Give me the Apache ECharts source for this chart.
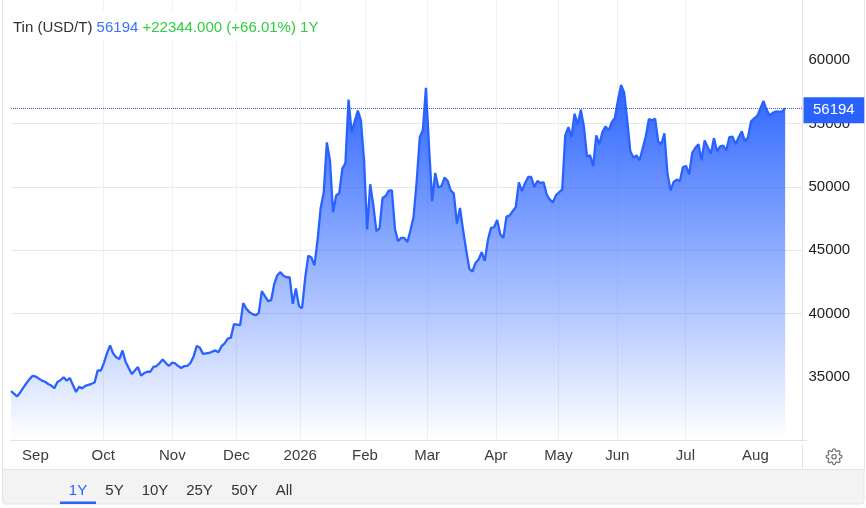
<!DOCTYPE html>
<html>
<head>
<meta charset="utf-8">
<script src="https://cdn.jsdelivr.net/npm/echarts@6/dist/echarts.min.js"></script>
<style>html,body{margin:0;padding:0;background:#fff}#c{width:866px;height:508px}</style>
</head>
<body>
<div id="c"></div>
<script>
const values = [
33900,33685,33480,33800,34170,34530,34840,35100,35040,34880,
34720,34630,34450,34330,34130,34610,34760,34980,34720,34920,
34370,33820,34240,34110,34310,34390,34470,34570,35530,35510,
36100,36890,37500,36850,36570,36420,37100,36200,35710,35240,
35510,35790,35120,35310,35420,35420,35810,35870,36100,36380,
36100,35870,36130,36080,35870,35710,35870,35890,36130,36650,
37460,37310,36830,36870,36900,37010,37100,36950,37440,37650,
38030,38110,39170,39130,39090,40830,40390,40120,39960,39880,
40040,41770,41380,40980,41060,42320,43030,43270,42990,42870,
42850,40770,41980,40590,40430,42800,44570,44430,43800,45790,
48310,49570,53500,52090,47990,49310,49490,51430,51880,56870,
54290,55160,56000,55240,52090,46630,50200,48540,46500,46730,
49120,49280,49700,49720,46650,45710,45970,45970,45650,46570,
47620,50380,53900,54450,57810,53130,48860,51090,49940,50060,
50720,50470,49720,49460,47100,48330,46570,45000,43540,43320,
44000,44270,44840,44160,45790,46760,46810,47390,46260,45970,
47650,47720,48070,48390,50350,49670,50280,50770,50770,49980,
50460,50300,50350,49390,48980,48780,49330,49570,49800,54050,
54710,53920,55760,54900,56080,54760,52400,52480,51640,54050,
53350,54310,54760,54450,55100,55420,56810,58020,57440,55240,
52800,52300,52480,52090,53030,53980,55340,55240,55370,53590,
53350,54210,51040,49720,50390,50570,50430,51560,51640,50980,
52680,53070,53350,52090,53660,53110,52610,53820,52820,53190,
53240,52870,53920,53950,53350,53900,54370,53580,53900,55160,
55390,55590,56180,56760,56070,55630,55830,55940,55920,55940,
56194
];
const monthLabels = ['Sep','Oct','Nov','Dec','2026','Feb','Mar','Apr','May','Jun','Jul','Aug'];
const monthTicks  = [7.9,29.8,52.1,72.8,93.4,114.3,134.4,156.6,176.8,195.8,217.8,240.4];
const priceTicks  = [35000,40000,45000,50000,55000,60000];
const rangeLabels = ['1Y','5Y','10Y','25Y','50Y','All'];
const seriesName = 'Tin (USD/T)';
const lastPrice = '56194';
const changeText = '+22344.000 (+66.01%) 1Y';

const FONT = '"Liberation Sans", Arial, sans-serif';
const BLUE = '#2962ff';
const gear = 'M12 15a3 3 0 1 0 0-6 3 3 0 0 0 0 6z M19.4 15a1.65 1.65 0 0 0 .33 1.82l.06.06a2 2 0 0 1 0 2.83 2 2 0 0 1-2.83 0l-.06-.06a1.65 1.65 0 0 0-1.82-.33 1.65 1.65 0 0 0-1 1.51V21a2 2 0 0 1-2 2 2 2 0 0 1-2-2v-.09A1.65 1.65 0 0 0 9 19.4a1.65 1.65 0 0 0-1.82.33l-.06.06a2 2 0 0 1-2.83 0 2 2 0 0 1 0-2.83l.06-.06a1.65 1.65 0 0 0 .33-1.82 1.65 1.65 0 0 0-1.51-1H3a2 2 0 0 1-2-2 2 2 0 0 1 2-2h.09A1.65 1.65 0 0 0 4.6 9a1.65 1.65 0 0 0-.33-1.82l-.06-.06a2 2 0 0 1 0-2.83 2 2 0 0 1 2.83 0l.06.06a1.65 1.65 0 0 0 1.82.33H9a1.65 1.65 0 0 0 1-1.51V3a2 2 0 0 1 2-2 2 2 0 0 1 2 2v.09a1.65 1.65 0 0 0 1 1.51 1.65 1.65 0 0 0 1.82-.33l.06-.06a2 2 0 0 1 2.83 0 2 2 0 0 1 0 2.83l-.06.06a1.65 1.65 0 0 0-.33 1.82V9a1.65 1.65 0 0 0 1.51 1H21a2 2 0 0 1 2 2 2 2 0 0 1-2 2h-.09a1.65 1.65 0 0 0-1.51 1z';
echarts.graphic.registerShape('gearIcon', echarts.graphic.extendPath(gear, {}));

const rangeX = [78,114.5,155,199.5,244.5,284];
const line = (x1,y1,x2,y2,c) => ({type:'line',silent:true,z:1,shape:{x1,y1,x2,y2},style:{stroke:c||'#e4e4e4',lineWidth:1}});
const graphics = [
  {type:'rect',silent:true,z:0,shape:{x:2.5,y:469.5,width:861.5,height:34.5,r:[0,0,3,3]},style:{fill:'#f3f3f3',stroke:'#e4e4e4',lineWidth:1}},
  line(2.5,0,2.5,470), line(864.5,0,864.5,470),
  line(802.5,444,802.5,469.5), line(802,440.5,807,440.5),
  {type:'rect',silent:true,z:2,shape:{x:60,y:501.5,width:36,height:2.5},style:{fill:BLUE}},
  {type:'gearIcon',silent:true,z:2,x:825.4,y:448,scaleX:0.72,scaleY:0.72,style:{fill:'none',stroke:'#666',lineWidth:1.6}}
];
rangeLabels.forEach((t,i)=>graphics.push({type:'text',silent:true,z:2,x:rangeX[i],y:491,
  style:{text:t,fill:i===0?BLUE:'#333',font:'15px '+FONT,textAlign:'center',textVerticalAlign:'middle'}}));

const chart = echarts.init(document.getElementById('c'),null,{renderer:'canvas'});
chart.setOption({
  animation:false,
  backgroundColor:'#fff',
  textStyle:{fontFamily:FONT},
  title:{
    left:11,top:11,padding:[9,2,5,2],backgroundColor:'#fff',
    text:`{a|${seriesName}} {b|${lastPrice}} {c|${changeText}}`,
    textStyle:{fontWeight:'normal',fontSize:15,rich:{
      a:{fontSize:15,fontWeight:'normal',lineHeight:15,color:'#333',fontFamily:FONT},
      b:{fontSize:15,fontWeight:'normal',lineHeight:15,color:'#3d6fff',fontFamily:FONT},
      c:{fontSize:15,fontWeight:'normal',lineHeight:15,color:'#2ecc40',fontFamily:FONT}
    }}
  },
  grid:{left:11,top:0.5,right:63.5,bottom:67.5,containLabel:false},
  xAxis:{
    type:'value',min:0,max:255.6,
    axisLine:{show:true,onZero:false,lineStyle:{color:'#e4e4e4',width:1}},
    axisTick:{show:false,customValues:monthTicks},
    axisLabel:{customValues:monthTicks,color:'#3c3c3c',fontSize:15,fontFamily:FONT,margin:8,hideOverlap:false,
      formatter:v=>monthLabels[monthTicks.indexOf(v)]||''},
    splitLine:{show:true,showMinLine:false,showMaxLine:false,lineStyle:{color:'#eef1f5',width:1}}
  },
  yAxis:{
    type:'value',position:'right',min:30000,max:64685,
    axisLine:{show:true,onZero:false,lineStyle:{color:'#e4e4e4',width:1}},
    axisTick:{show:false,customValues:priceTicks},
    axisLabel:{customValues:priceTicks,color:'#222',fontSize:15,fontFamily:FONT,margin:6,formatter:v=>String(v)},
    splitLine:{show:true,showMinLine:false,showMaxLine:false,lineStyle:{color:'#e6e6e6',width:1}}
  },
  graphic:graphics,
  series:[{
    type:'line',name:seriesName,showSymbol:false,symbol:'none',smooth:false,z:3,
    data:values.map((v,i)=>[i,v]),
    lineStyle:{color:BLUE,width:2.3},
    areaStyle:{opacity:1,origin:'start',color:new echarts.graphic.LinearGradient(0,0,0,1,[
      {offset:0,color:'rgba(41,98,255,0.98)'},{offset:1,color:'rgba(41,98,255,0)'}])},
    markLine:{
      silent:true,symbol:'none',animation:false,z:10,
      data:[{yAxis:values[values.length-1]}],
      lineStyle:{color:'#3a57b5',type:'dotted',width:1},
      label:{show:true,position:'end',distance:1,formatter:()=>lastPrice,color:'#fff',offset:[0,2],
        backgroundColor:BLUE,fontSize:15,fontFamily:FONT,padding:[5,9.5,5,9.5],lineHeight:16}
    }
  }]
});
</script>
</body>
</html>
